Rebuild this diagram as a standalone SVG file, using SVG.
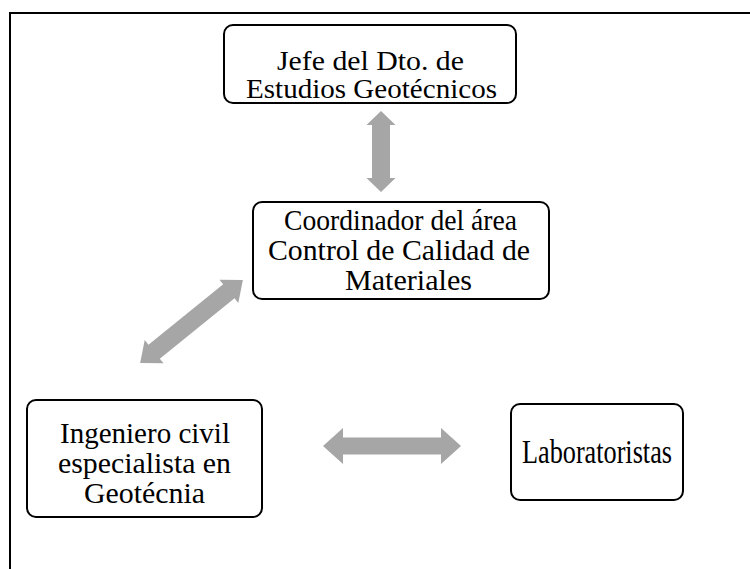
<svg xmlns="http://www.w3.org/2000/svg" width="750" height="569" viewBox="0 0 750 569">
<style>
.box{fill:#fff;stroke:#000;stroke-width:2}
.t{font-family:'Liberation Serif','Times New Roman','DejaVu Serif',serif;font-size:30px;fill:#000;text-anchor:middle}
.s{font-size:27px}
.arr{fill:#a6a6a6;stroke:none}
</style>
<rect x="0" y="0" width="750" height="569" fill="#fff"/>
<path d="M10 569 V13 H750" fill="none" stroke="#000" stroke-width="2"/>
<g id="connectors">
<polygon class="arr" points="381,111 395.5,125 390,125 390,178 395.5,178 381,192 366.5,178 372,178 372,125 366.5,125"/>
<polygon class="arr" transform="translate(191.5 321.5) rotate(-38.9)" points="-66,0 -48,-15 -48,-9 48,-9 48,-15 66,0 48,15 48,9 -48,9 -48,15"/>
<polygon class="arr" points="323,446 343,428 343,437.5 441,437.5 441,428 461,446 441,464 441,454.5 343,454.5 343,464"/>
</g>
<g id="jefe">
<rect class="box" x="224" y="25" width="292" height="78" rx="9"/>
<text class="t s" x="370.5" y="70" textLength="187" lengthAdjust="spacingAndGlyphs">Jefe del Dto. de</text>
<text class="t s" x="371.5" y="98" textLength="251" lengthAdjust="spacingAndGlyphs">Estudios Geotécnicos</text>
</g>
<g id="coordinador">
<rect class="box" x="253" y="202" width="296" height="97" rx="9"/>
<text class="t" x="400.5" y="230" textLength="233" lengthAdjust="spacingAndGlyphs">Coordinador del área</text>
<text class="t" x="399" y="260" textLength="262" lengthAdjust="spacingAndGlyphs">Control de Calidad de</text>
<text class="t" x="408.5" y="290" textLength="127" lengthAdjust="spacingAndGlyphs">Materiales</text>
</g>
<g id="ingeniero">
<rect class="box" x="27" y="400" width="235" height="117" rx="9"/>
<text class="t" x="145" y="443" textLength="170" lengthAdjust="spacingAndGlyphs">Ingeniero civil</text>
<text class="t" x="144.5" y="473" textLength="173" lengthAdjust="spacingAndGlyphs">especialista en</text>
<text class="t" x="144.5" y="503" textLength="121" lengthAdjust="spacingAndGlyphs">Geotécnia</text>
</g>
<g id="laboratoristas">
<rect class="box" x="511" y="404" width="172" height="96" rx="9"/>
<text class="t" x="597" y="463" font-size="33" style="font-size:33px" textLength="150" lengthAdjust="spacingAndGlyphs">Laboratoristas</text>
</g>
</svg>
